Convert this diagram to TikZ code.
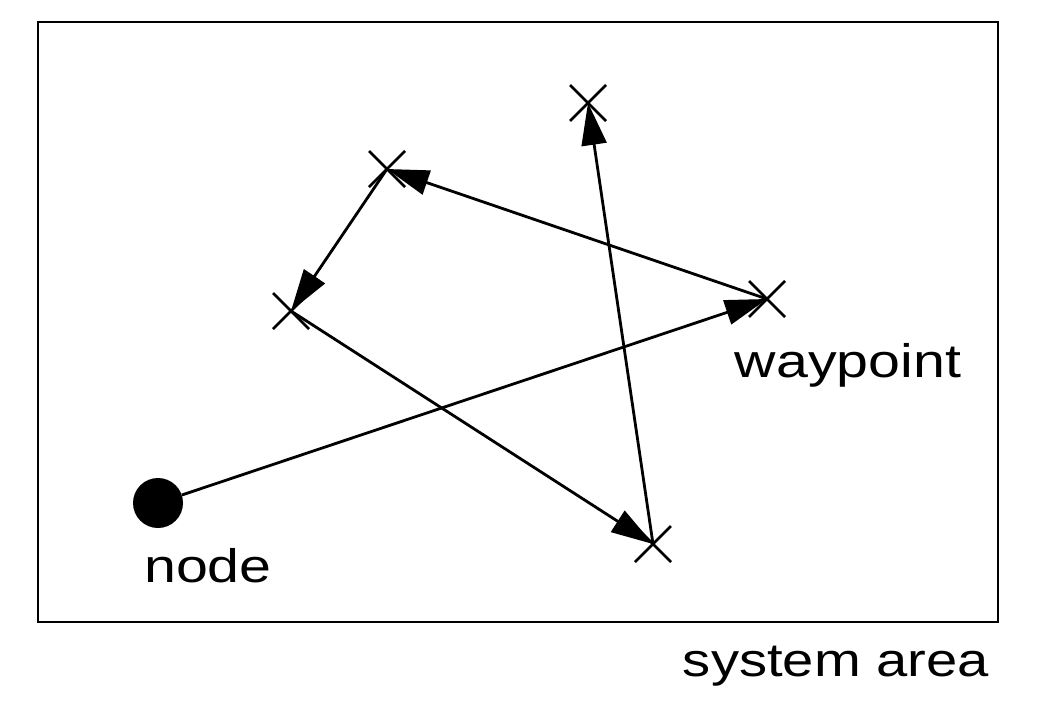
\documentclass[tikz,border=0pt]{standalone}
\usepackage{fontspec}
\setmainfont{Liberation Sans}
\usetikzlibrary{arrows.meta}

\begin{document}
\begin{tikzpicture}[x=1pt,y=-1pt]
\tikzset{hop/.style={line width=2.8pt,-{Triangle[length=42pt,width=25pt]}}}
\tikzset{wpt/.style={inner sep=0pt,minimum size=0pt}}
\tikzset{lbl/.style={font=\fontsize{47}{56}\selectfont,inner sep=0pt,anchor=base,xscale=1.22,transform shape}}

\useasboundingbox (0,0) rectangle (1041,710);
\draw[line width=2.8pt] (38,22) rectangle (998,622);

% waypoints
\node[wpt] (w1) at (767,299) {};
\node[wpt] (w2) at (387,169) {};
\node[wpt] (w3) at (291,311) {};
\node[wpt] (w4) at (653,544) {};
\node[wpt] (w5) at (588,103) {};
\foreach \w in {w1,w2,w3,w4,w5}
  \draw[line width=2.8pt] ([shift={(-18,-18)}]\w.center) -- ([shift={(18,18)}]\w.center)
                          ([shift={(-18,18)}]\w.center) -- ([shift={(18,-18)}]\w.center);

\node[circle,fill,minimum size=50pt,inner sep=0pt] (mn) at (158,503) {};

\draw[hop] (mn) -- (w1.center);
\draw[hop] (w1.center) -- (w2.center);
\draw[hop] (w2.center) -- (w3.center);
\draw[hop] (w3.center) -- (w4.center);
\draw[hop] (w4.center) -- (w5.center);

\node[lbl] (wl) at (848,377) {waypoint};
\node[lbl] (nl) at (208,582) {node};
\node[lbl,xscale=0.98] (sl) at (836,676) {system area};
\end{tikzpicture}
\end{document}
